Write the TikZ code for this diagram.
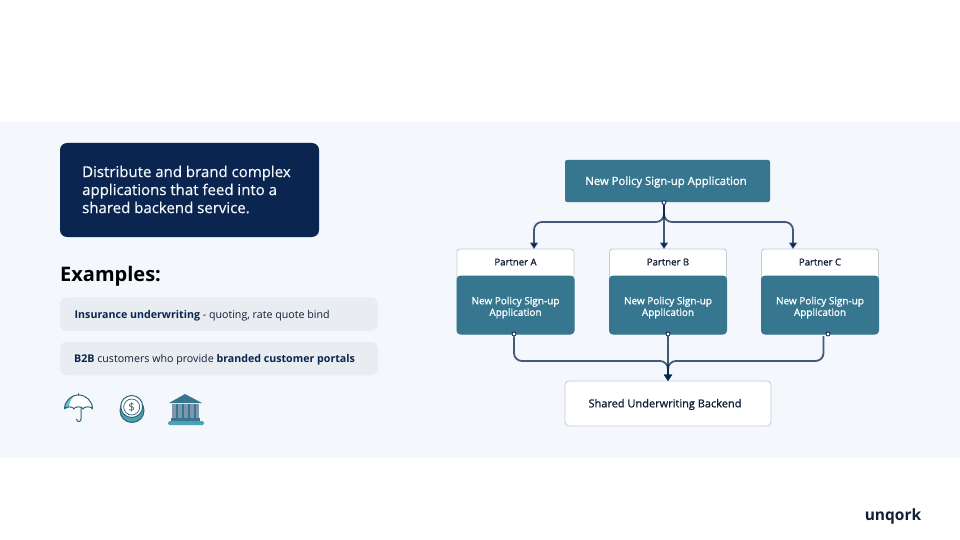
\documentclass[tikz,border=0pt]{standalone}
\usepackage{fontspec}
\setmainfont{Open Sans}
\newfontfamily\medfont{Open Sans}[FakeBold=0.5]
\newfontfamily\semifont{Open Sans}[FakeBold=1.1]
\usetikzlibrary{arrows.meta}
\definecolor{unqnavy}{RGB}{10, 37, 80}
\definecolor{unqteal}{RGB}{54, 118, 143}
\definecolor{unqband}{RGB}{244, 247, 251}
\definecolor{unqpill}{RGB}{233, 237, 241}
\definecolor{unqedge}{RGB}{197, 204, 212}
\definecolor{unqink}{RGB}{16, 30, 56}
\definecolor{unqcyan}{RGB}{92, 198, 208}
\definecolor{unqslate}{RGB}{129, 149, 172}
\tikzset{
  tealbox/.style={fill=unqteal, rounded corners=2pt, inner sep=0pt},
  whitebox/.style={fill=white, draw=unqedge, line width=0.9pt, rounded corners=3pt, inner sep=0pt},
  boxtext/.style={inner sep=0pt, align=center},
  pill/.style={fill=unqpill, rounded corners=7pt, minimum width=318pt, minimum height=33.5pt, inner sep=0pt},
  pilltext/.style={anchor=west, inner sep=0pt, text=unqink, font=\fontsize{10.65}{12}\selectfont},
  conn/.style={draw=unqnavy, draw opacity=0.75, line width=1.8pt, rounded corners=8pt},
  tip/.style={-{Triangle[width=8pt,length=6.5pt]}},
  dot/.style={circle, draw=unqnavy, fill=unqband, line width=0.8pt, minimum size=4pt, inner sep=0pt},
  icon/.style={draw=unqteal!85!black, line width=1pt, line join=round}
}
\begin{document}
\begin{tikzpicture}[x=1pt,y=-1pt]
\useasboundingbox (0,0) rectangle (960,540);
\fill[unqband] (0,122) rectangle (960,458);

% left side
\node[fill=unqnavy, rounded corners=7pt, minimum width=259pt, minimum height=94pt, inner sep=0pt] (intro) at (189.5,190) {};
\node[anchor=west, align=left, inner sep=0pt, text=unqband, font=\fontsize{15}{18}\medfont] (introtext) at (82,189.5) {Distribute and brand complex\\applications that feed into a\\shared backend service.};
\node[anchor=west, inner sep=0pt, font=\fontsize{20}{24}\selectfont\bfseries] (examples) at (60,276) {Examples:};
\node[pill] (pill1) at (219,314) {};
\node[pill] (pill2) at (219,358.5) {};
\node[pilltext] (pilltext1) at (74.5,316) {\textcolor{unqnavy}{\bfseries Insurance underwriting} - quoting, rate quote bind};
\node[pilltext] (pilltext2) at (74,360) {\textcolor{unqnavy}{\bfseries B2B} customers who provide \textcolor{unqnavy}{\bfseries branded customer portals}};

% umbrella
\fill[white] (64.5,409) arc[start angle=180, end angle=360, radius=14] -- cycle;
\fill[unqcyan] (64.5,409) arc[start angle=180, end angle=255, radius=14] .. controls (70,399) and (69,404) .. (69,408) -- cycle;
\draw[icon] (64.5,409) arc[start angle=180, end angle=360, radius=14] arc[start angle=0, end angle=-180, x radius=4.7, y radius=2.2] arc[start angle=0, end angle=-180, x radius=4.6, y radius=2.2] arc[start angle=0, end angle=-180, x radius=4.7, y radius=2.2];
\draw[icon, line cap=round] (78.5,393.5) -- (78.5,395) (81,407.5) -- (81,419) arc[start angle=0, end angle=180, x radius=2.2, y radius=2.6];

% coin
\draw[icon, fill=unqcyan!55!unqteal] (132,410.5) circle[radius=12];
\draw[icon, fill=white] (131.7,406.5) circle[radius=11];
\draw[icon, fill=white, line width=0.7pt] (131.7,407) circle[radius=8];
\node[inner sep=0pt, text=unqteal!85!black, font=\fontsize{11.5}{13}\selectfont] (coinsign) at (131.7,407.5) {\$};

% bank
\fill[unqteal] (185,394) -- (202,403) -- (169,403) -- cycle;
\fill[unqslate] (172,404) rectangle (199,418);
\foreach \colx in {176,182,188,194}
  \fill[unqteal] (\colx,404) rectangle ++(1.5,14);
\fill[unqteal] (171,417.5) rectangle (200,421);
\fill[unqcyan!55!unqteal, rounded corners=1.5pt] (168,421) rectangle (204,425);

% logo
\node[inner sep=0pt, text=unqink, font=\fontsize{15.5}{16}\selectfont\bfseries] (logo) at (893,516.5) {unqork};

% right side
\node[tealbox, minimum width=205pt, minimum height=42pt] (app) at (667.5,181) {};
\node[boxtext, text=white, font=\fontsize{11.3}{13}\semifont] (apptext) at (666,182) {New Policy Sign-up Application};

\node[whitebox, minimum width=117pt, minimum height=85pt] (partnerA) at (515.5,291.5) {};
\node[whitebox, minimum width=117pt, minimum height=85pt] (partnerB) at (668,291.5) {};
\node[whitebox, minimum width=117pt, minimum height=85pt] (partnerC) at (820,291.5) {};
\foreach \who/\lab in {A/Partner A,B/Partner B,C/Partner C}
  \node[boxtext, text=unqink, font=\fontsize{9.6}{11}\semifont] (label\who) at ([yshift=-13.5pt]partner\who.north) {\lab};
\foreach \who in {A,B,C} {
  \node[tealbox, rounded corners=4pt, minimum width=118pt, minimum height=59pt] (inner\who) at ([yshift=-13.5pt]partner\who.center) {};
  \node[boxtext, text=white, font=\fontsize{10}{11.5}\semifont] (innertext\who) at ([yshift=-2.5pt]inner\who.center) {New Policy Sign-up\\Application};
}

\node[whitebox, rounded corners=4pt, minimum width=206pt, minimum height=45pt] (backend) at (668,403.5) {};
\node[boxtext, text=unqink, font=\fontsize{11}{13}\semifont] (backendtext) at (665,404.5) {Shared Underwriting Backend};

% connectors
\coordinate (tipA) at (534,249);
\coordinate (tipB) at (664,249);
\coordinate (tipC) at (793,249);
\coordinate (busTop) at (600,222);
\coordinate (busBottom) at (700,361);
\coordinate (drop) at (668,381);
\coordinate (stemC) at (823.5,336);

\node[dot] (outTop) at (664,202.5) {};
\node[dot] (outA) at (514,334) {};
\node[dot] (outB) at (668,334) {};

\draw[conn, tip] (outTop) |- (busTop) -| (tipA);
\draw[conn, tip] (outTop) -- (tipB);
\draw[conn, tip] (outTop) |- (busTop -| tipC) -- (tipC);

\draw[conn, tip] (outA) |- (busBottom -| outB) -- (drop);
\draw[conn, tip] (outB) -- (drop);
\draw[conn, tip] (stemC) |- (busBottom -| outB) -- (drop);
\node[dot] (outC) at (828,334) {};
\end{tikzpicture}
\end{document}
